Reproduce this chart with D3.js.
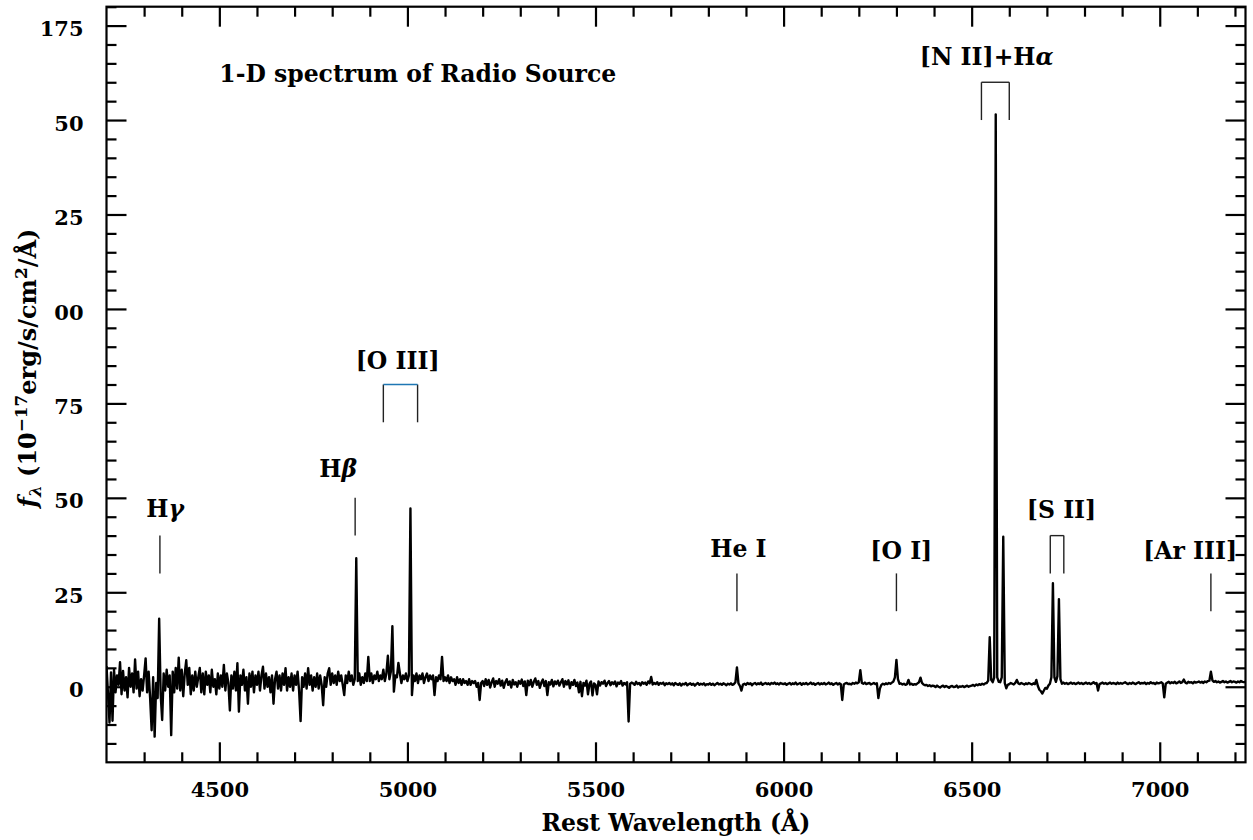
<!DOCTYPE html>
<html>
<head>
<meta charset="utf-8">
<script src="https://cdn.jsdelivr.net/npm/d3@7"></script>
<style>
  body { margin: 0; background: #fff; }
  text { font-family: "DejaVu Serif", serif; font-weight: bold; fill: #000; white-space: pre; }
</style>
</head>
<body>
<svg id="chart" width="1253" height="840"></svg>
<script>
// ---- Spectrum: flux (1e-17 erg/s/cm^2/Å) on a regular 4 Å grid, one array per segment ----
const waveStep = 4;
const segStart = [4200, 5000, 6000, 7000];

// 4200 – 4996 Å
const fluxBlue = [
  5.5, -2.0, -9.5, 3.8, -9.0, 4.5, -1.5, 3.0, 0.5, 6.5, -2.0, 4.2, -1.0, 2.5, -2.8, 5.0, 0.0, 3.5, -1.5, 7.2, -0.5, 4.0, -2.5, 2.0, -1.0,
  3.0, 7.5, -1.5, 4.0, -3.0, -11.5, 2.5, -13.2, 1.0, -3.0, 18.0, -2.0, -8.8, 3.5, -1.0, 4.5, 0.0, 3.0, -12.8, 4.0, -1.5, 5.0, -0.5, 7.7, -1.0,
  4.5, -2.5, 3.5, 7.0, 0.5, 5.0, -2.0, 3.0, -1.0, 4.0, 0.0, 2.5, 5.0, -1.5, 3.5, -2.0, 4.0, 0.5, 3.0, -1.5, 4.5, 0.0, 2.0, -2.0, 3.5,
  -0.5, 3.0, 0.0, 5.8, -1.0, 3.5, 1.0, -6.3, 3.0, -0.5, 4.0, -1.0, 6.2, -6.6, 3.0, 0.5, 4.5, -1.0, 2.5, -4.5, 3.5, 0.0, 4.0, -1.5, 3.0,
  0.5, 4.0, -1.0, 3.0, 5.3, -0.5, 3.5, 0.0, 2.5, -1.5, 3.0, -4.5, 2.0, 4.0, -0.5, 3.0, -1.0, 3.5, 0.5, 4.9, -1.0, 2.5, 0.0, 3.5, -1.0,
  3.0, 0.5, 4.0, -1.0, -9.1, 2.5, 0.0, 3.5, -0.5, 4.9, 0.5, 3.0, -1.0, 2.5, 0.0, 3.5, -0.5, 3.0, 0.5, -4.9, 2.5, 0.0, 3.5, 4.9, 0.5,
  3.5, 1.0, 3.0, 0.5, 4.0, 1.5, 3.0, 0.5, -2.2, 3.0, 1.0, 4.0, 1.5, 3.0, 0.5, 2.0, 34.0, 1.5, 3.5, 0.5, 2.5, 1.0, 3.5, 1.5, 7.9,
  1.5, 3.5, 1.0, 3.0, 2.0, 4.0, 1.5, 3.0, 2.0, 4.5, 1.5, 3.5, 8.2, 2.0, 4.0, 16.0, -1.3, 3.0, 2.5, 6.3, 3.5, 1.0, 3.0, 2.0, 3.5
];

// 5000 – 5996 Å
const fluxGreen = [
  1.5, 3.0, 47.2, -2.2, 3.0, 1.5, 3.5, 1.0, 3.0, 2.0, 3.5, 1.0, 2.5, 3.5, 1.5, 3.0, 2.0, 3.0, -2.2, 2.5, 1.5, 3.0, 2.0, 7.9, 1.5,
  2.5, 1.5, 3.0, 1.0, 2.5, 1.5, 2.0, 0.5, 2.5, 1.0, 2.0, 0.5, 2.0, 1.0, 1.5, 0.5, 2.0, 0.5, 1.5, 1.0, 1.5, 0.0, 1.0, -3.5, 1.0,
  1.5, 0.2, 2.0, 0.5, 1.8, -0.2, 1.2, 2.2, 0.0, 1.5, 0.8, 2.0, 0.3, 1.6, -0.3, 1.2, 2.0, 0.5, 1.4, -0.2, 1.8, 0.6, 1.2, 0.0, 1.5,
  0.8, 1.9, 0.2, 1.4, -2.2, 1.6, 0.4, 1.8, 0.0, 1.3, 2.2, 0.5, 1.5, -0.3, 1.1, 1.9, 0.2, 1.5, -2.2, 1.2, 0.6, 1.8, 0.1, 1.4, 0.7,
  1.6, 0.3, 1.2, 2.0, 0.0, 1.5, 0.6, 1.7, -0.4, 1.2, 0.5, 1.8, 0.2, 1.1, -1.5, 1.3, -2.5, 1.0, 0.3, 1.6, -2.0, 0.8, 1.4, -2.3, 0.9,
  0.5, -2.0, 1.4, 0.3, 1.2, 0.8, 1.6, 0.2, 1.0, 1.5, 0.4, 1.2, 0.7, 1.4, 0.1, 1.1, 0.8, 1.5, 0.3, 1.0, 0.6, 1.2, -9.2, 0.8, 1.1,
  0.9, 0.5, 1.3, 0.7, 1.0, 0.4, 1.2, 0.8, 1.1, 0.5, 1.4, 0.9, 2.6, 0.6, 1.0, 0.7, 1.2, 0.5, 1.0, 0.8, 1.1, 0.4, 0.9, 0.7, 1.0,
  0.6, 0.9, 0.4, 1.0, 0.7, 0.5, 0.9, 0.3, 0.8, 0.6, 1.0, 0.4, 0.7, 0.9, 0.5, 0.8, 0.3, 0.7, 1.0, 0.5, 0.8, 0.6, 0.9, 0.4, 0.7,
  0.6, 0.9, 0.5, 0.8, 0.4, 0.7, 1.0, 0.6, 0.8, 0.5, 0.9, 0.7, 0.4, 0.8, 0.6, 0.9, 0.5, 0.7, 1.2, 5.1, 0.9, 0.2, -1.0, 0.6, 0.8,
  0.5, 1.0, 0.7, 0.9, 0.4, 0.8, 1.0, 0.6, 0.9, 0.7, 1.1, 0.5, 0.8, 1.0, 0.7, 0.9, 0.6, 1.0, 0.8, 1.1, 0.7, 0.9, 0.6, 1.0, 0.8
];

// 6000 – 6996 Å
const fluxRed = [
  0.7, 0.9, 0.5, 0.8, 1.0, 0.6, 0.9, 0.7, 1.1, 0.6, 0.8, 1.0, 0.5, 0.9, 0.7, 1.0, 0.6, 0.8, 1.1, 0.7, 0.9, 0.5, 0.8, 1.0, 0.6,
  0.9, 0.7, 1.0, 0.6, 0.8, 1.1, 0.7, 0.9, 0.5, 0.8, 1.0, 0.6, 0.9, 0.7, -3.5, 0.6, 0.9, 1.0, 0.7, 0.8, 0.6, 1.0, 0.8, 1.1, 0.9,
  1.2, 4.4, 1.0, 0.8, 1.1, 0.7, 0.9, 1.0, 0.6, 0.8, 1.0, 0.7, 0.9, -3.0, -0.5, 0.5, 0.8, 0.6, 0.9, 0.7, 1.0, 0.8, 1.1, 1.4, 2.5,
  7.1, 2.0, 0.8, 0.9, 0.6, 0.8, 0.5, 0.7, 1.8, 0.6, 0.8, 0.5, 0.7, 0.6, 0.9, 1.2, 2.4, 1.0, 0.6, 0.4, 0.5, 0.2, 0.4, 0.1, 0.3,
  0.2, -0.1, 0.3, 0.0, -0.2, 0.1, 0.3, -0.1, 0.2, 0.0, -0.3, 0.1, 0.2, -0.1, 0.0, 0.3, -0.2, 0.1, 0.0, 0.2, -0.1, 0.1, 0.3, 0.0, 0.2,
  0.3, 0.5, 0.2, 0.6, 0.4, 0.7, 0.5, 0.8, 0.6, 0.9, 1.0, 1.6, 13.1, 1.8, 1.2, 2.5, 151.5, 2.5, 1.3, 1.2, 2.5, 39.7, 1.0, -0.4, 0.5,
  0.7, 1.0, 0.8, 0.6, 1.0, 1.8, 0.9, 0.7, 1.0, 0.8, 0.6, 0.9, 0.7, 1.0, 0.8, 0.6, 0.9, 0.7, 1.8, 0.2, -0.8, -1.2, -1.8, -1.0, -0.3,
  -0.5, 0.3, 0.8, 2.5, 27.4, 2.5, 1.3, 2.8, 23.2, 2.0, 0.8, 1.1, 0.8, 1.0, 0.7, 0.9, 1.1, 0.8, 1.0, 0.7, 0.9, 1.1, 0.8, 1.0, 0.7,
  0.9, 1.1, 0.8, 1.0, 0.7, 0.9, 1.2, 0.8, 1.0, -1.0, 0.7, 0.9, 1.1, 0.8, 1.0, 0.7, 0.9, 1.1, 0.8, 1.0, 0.9, 0.7, 1.1, 0.8, 1.0,
  0.8, 1.0, 1.2, 0.9, 0.7, 1.0, 0.8, 1.1, 0.9, 0.7, 1.0, 1.2, 0.8, 1.0, 0.9, 1.1, 0.7, 1.0, 0.8, 1.2, 0.9, 1.0, 0.7, 1.1, 0.9
];

// 7000 – 7228 Å
const fluxTail = [
  1.0, 1.2, 0.9, -2.8, 0.8, 1.1, 1.3, 0.9, 1.2, 1.0, 1.3, 0.9, 1.1, 1.4, 1.0, 1.2, 1.9, 1.1, 0.9, 1.3, 1.1, 1.2, 0.9, 1.3, 1.1,
  1.2, 1.4, 1.1, 1.3, 1.0, 1.4, 1.2, 1.5, 1.6, 4.0, 1.7, 1.3, 1.5, 1.2, 1.4, 1.1, 1.3, 1.5, 1.2, 1.4, 1.1, 1.3, 1.5, 1.2, 1.4,
  1.3, 1.1, 1.4, 1.2, 1.5, 1.3, 1.2, 1.4
];

// ---- Axis ticks ----
const xTicks = [4500, 5000, 5500, 6000, 6500, 7000];
const xTickLabels = ["4500", "5000", "5500", "6000", "6500", "7000"];
const yTicks = [0, 25, 50, 75, 100, 125, 150, 175];
const yTickLabels = ["0", "25", "50", "75", "00", "25", "50", "175"];

// ---- Emission-line identifications ----
const lineLabels = ["Hγ", "Hβ", "[O III]", "He I", "[O I]", "[N II]+Hα", "[S II]", "[Ar III]"];
const labelWave  = [4356, 4816, 4974, 5880, 6313, 6540, 6739, 7081];
const labelFlux  = [45, 55.5, 84, 34.3, 33.7, 164.6, 44.6, 33.7];

// single tick markers
const markWave = [4342, 4861, 5876, 6300, 7136];
const markLow  = [30, 40, 20, 20, 20];
const markHigh = [40, 50, 30, 30, 30];

// bracket markers for doublets / blends
const bracketLeft  = [4936, 6526, 6709];
const bracketRight = [5027, 6600, 6745];
const bracketLow   = [70, 150, 30];
const bracketHigh  = [80, 160, 40];
const bracketTopColor = ["#1f77b4", "#222", "#222"];

// ---- Build the spectrum points ----
const spectrum = [];
[fluxBlue, fluxGreen, fluxRed, fluxTail].forEach((seg, s) => {
  seg.forEach((f, i) => spectrum.push({ wave: segStart[s] + i * waveStep, flux: f }));
});

// ---- Layout ----
const W = 1253, H = 840;
const plot = { left: 106.5, right: 1245.5, top: 6.7, bottom: 762.3 };
const svg = d3.select("#chart");
svg.append("rect").attr("width", W).attr("height", H).attr("fill", "#fff");

const x = d3.scaleLinear().domain([4200, 7228]).range([plot.left, plot.right]);
const y = d3.scaleLinear().domain([-20, 180]).range([plot.bottom, plot.top]);

const xMinor = d3.range(4300, 7201, 100).filter(v => v % 500 !== 0);
const yMinor = d3.range(-15, 181, 5).filter(v => v % 25 !== 0);

// ---- Spectrum line ----
svg.append("defs").append("clipPath").attr("id", "plotClip")
  .append("rect").attr("x", plot.left).attr("y", plot.top)
  .attr("width", plot.right - plot.left).attr("height", plot.bottom - plot.top);

svg.append("path")
  .datum(spectrum)
  .attr("clip-path", "url(#plotClip)")
  .attr("fill", "none")
  .attr("stroke", "#000")
  .attr("stroke-width", 2.4)
  .attr("stroke-linejoin", "round")
  .attr("d", d3.line().x(d => x(d.wave)).y(d => y(d.flux)));

// ---- Axes (ticks point inward on all four sides) ----
function addAxis(axis, transform) {
  const g = svg.append("g").attr("transform", transform).call(axis);
  g.select(".domain").remove();
  g.selectAll(".tick line").attr("stroke", "#000").attr("stroke-width", 2.2);
  g.attr("font-family", null).attr("font-size", 21);
  return g;
}

addAxis(d3.axisBottom(x).tickValues(xTicks).tickSize(-20).tickPadding(20)
  .tickFormat((d, i) => xTickLabels[i]), `translate(0,${plot.bottom})`);
addAxis(d3.axisBottom(x).tickValues(xMinor).tickSize(-10).tickFormat(""), `translate(0,${plot.bottom})`);
addAxis(d3.axisTop(x).tickValues(xTicks).tickSize(-20).tickFormat(""), `translate(0,${plot.top})`);
addAxis(d3.axisTop(x).tickValues(xMinor).tickSize(-10).tickFormat(""), `translate(0,${plot.top})`);

const yAxisG = addAxis(d3.axisLeft(y).tickValues(yTicks).tickSize(-20).tickPadding(23)
  .tickFormat((d, i) => yTickLabels[i]), `translate(${plot.left},0)`);
yAxisG.selectAll(".tick text").attr("dy", "0.48em");
addAxis(d3.axisLeft(y).tickValues(yMinor).tickSize(-10).tickFormat(""), `translate(${plot.left},0)`);
addAxis(d3.axisRight(y).tickValues(yTicks).tickSize(-20).tickFormat(""), `translate(${plot.right},0)`);
addAxis(d3.axisRight(y).tickValues(yMinor).tickSize(-10).tickFormat(""), `translate(${plot.right},0)`);

// frame
svg.append("rect")
  .attr("x", plot.left).attr("y", plot.top)
  .attr("width", plot.right - plot.left).attr("height", plot.bottom - plot.top)
  .attr("fill", "none").attr("stroke", "#000").attr("stroke-width", 2.2);

// ---- Line markers ----
const marks = svg.append("g").attr("stroke", "#222").attr("stroke-width", 1.4).attr("fill", "none");
markWave.forEach((w, i) => {
  marks.append("line")
    .attr("x1", x(w)).attr("x2", x(w))
    .attr("y1", y(markLow[i])).attr("y2", y(markHigh[i]));
});
bracketLeft.forEach((wl, i) => {
  const wr = bracketRight[i];
  marks.append("line").attr("x1", x(wl)).attr("x2", x(wl)).attr("y1", y(bracketLow[i])).attr("y2", y(bracketHigh[i]));
  marks.append("line").attr("x1", x(wr)).attr("x2", x(wr)).attr("y1", y(bracketLow[i])).attr("y2", y(bracketHigh[i]));
  marks.append("line").attr("x1", x(wl)).attr("x2", x(wr)).attr("y1", y(bracketHigh[i])).attr("y2", y(bracketHigh[i]))
    .attr("stroke", bracketTopColor[i]);
});

// ---- Text helpers: Greek letters set in italic ----
function richText(sel, str) {
  str.split(/([αβγλ])/).filter(s => s.length).forEach(part => {
    const t = sel.append("tspan").text(part);
    if (/[αβγλ]/.test(part)) t.attr("font-style", "italic");
  });
}

const labelSize = 23.5;
lineLabels.forEach((lab, i) => {
  const t = svg.append("text")
    .attr("x", x(labelWave[i])).attr("y", y(labelFlux[i]))
    .attr("text-anchor", "middle").attr("font-size", labelSize);
  richText(t, lab);
});

// title inside the axes
svg.append("text")
  .attr("x", x(4500)).attr("y", y(160))
  .attr("font-size", labelSize)
  .text("1-D spectrum of Radio Source");

// x-axis label
svg.append("text")
  .attr("x", (plot.left + plot.right) / 2).attr("y", 831)
  .attr("text-anchor", "middle").attr("font-size", labelSize)
  .text("Rest Wavelength (Å)");

// y-axis label
const yl = svg.append("text")
  .attr("transform", "translate(36,368) rotate(-90)")
  .attr("text-anchor", "middle").attr("font-size", 24);
yl.append("tspan").attr("font-style", "italic").text("f");
yl.append("tspan").attr("font-style", "italic").attr("font-size", "70%").attr("dy", 5).text("λ");
yl.append("tspan").attr("dy", -5).text(" (10");
yl.append("tspan").attr("font-size", "70%").attr("dy", -9).text("−17");
yl.append("tspan").attr("dy", 9).text("erg/s/cm");
yl.append("tspan").attr("font-size", "70%").attr("dy", -9).text("2");
yl.append("tspan").attr("dy", 9).text("/Å)");
</script>
</body>
</html>
